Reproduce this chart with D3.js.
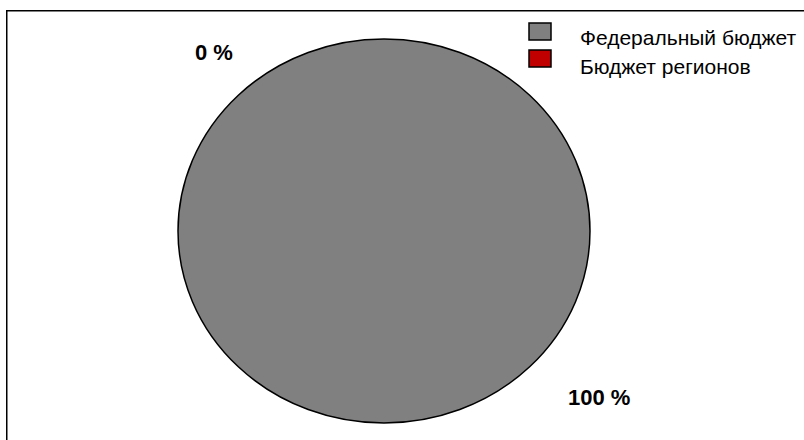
<!DOCTYPE html>
<html>
<head>
<meta charset="utf-8">
<script src="https://cdn.jsdelivr.net/npm/d3@7"></script>
<style>
  html, body { margin: 0; padding: 0; background: #fff; }
  svg { display: block; }
</style>
</head>
<body>
<svg id="chart" width="804" height="440"></svg>
<script>
// Budget shares (percent)
const categories = ["Федеральный бюджет", "Бюджет регионов"];
const values = [100, 0];
const colors = ["#808080", "#c00000"];
const percentLabels = ["100 %", "0 %"];

const svg = d3.select("#chart");
const FONT = "Liberation Sans, Arial, sans-serif";

// outer frame
svg.append("rect")
  .attr("x", 6.75).attr("y", 10.75)
  .attr("width", 820).attr("height", 450)
  .attr("fill", "#fff")
  .attr("stroke", "#000")
  .attr("stroke-width", 1.5);

// pie geometry (slightly wider than tall)
const cx = 384, cy = 231, rx = 206, ry = 192;

const pie = d3.pie().value(d => d).sort(null);
const arcs = pie(values);
const arc = d3.arc().innerRadius(0).outerRadius(ry);

const g = svg.append("g")
  .attr("transform", `translate(${cx},${cy}) scale(${rx / ry},1)`);

g.selectAll("path")
  .data(arcs.filter(a => a.endAngle - a.startAngle > 0))
  .join("path")
  .attr("d", arc)
  .attr("fill", d => colors[d.index])
  .attr("stroke", "#000")
  .attr("stroke-width", 1.5)
  .attr("vector-effect", "non-scaling-stroke");

// percentage labels placed outside the pie
const labelSize = 22;
const labelAngle = [2.262, -0.725];
const labelDist = [1.356, 1.245];
svg.selectAll("text.pct")
  .data(arcs)
  .join("text")
  .attr("class", "pct")
  .attr("x", (d, i) => cx + Math.sin(labelAngle[i]) * rx * labelDist[i])
  .attr("y", (d, i) => cy - Math.cos(labelAngle[i]) * ry * labelDist[i] + labelSize * 0.358)
  .attr("text-anchor", "middle")
  .attr("font-family", FONT)
  .attr("font-weight", "bold")
  .attr("font-size", labelSize)
  .text((d, i) => percentLabels[i]);

// legend
const legend = svg.append("g").attr("transform", "translate(529,23)");
const item = legend.selectAll("g")
  .data(categories)
  .join("g");
item.append("rect")
  .attr("y", (d, i) => i * 27)
  .attr("width", 22).attr("height", 17)
  .attr("fill", (d, i) => colors[i])
  .attr("stroke", "#000")
  .attr("stroke-width", 1.5);
item.append("text")
  .attr("x", 51)
  .attr("y", (d, i) => 22 + i * 29)
  .attr("font-family", FONT)
  .attr("font-size", 21)
  .text(d => d);
</script>
</body>
</html>
